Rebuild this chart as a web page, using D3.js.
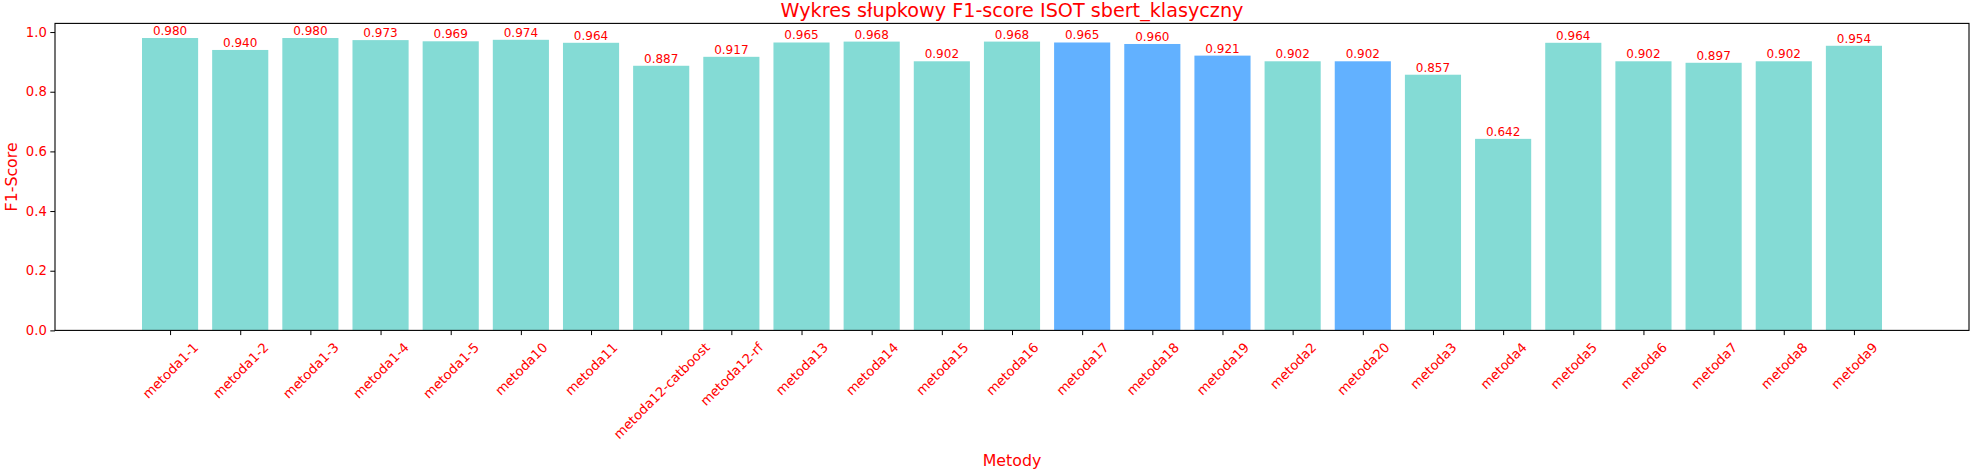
<!DOCTYPE html>
<html>
<head>
<meta charset="utf-8">
<script src="https://cdn.jsdelivr.net/npm/d3@7"></script>
<style>
html, body { margin: 0; padding: 0; background: #fff; }
svg { display: block; }
text { font-family: "DejaVu Sans", sans-serif; }
</style>
</head>
<body>
<script>
const categories = ["metoda1-1","metoda1-2","metoda1-3","metoda1-4","metoda1-5","metoda10","metoda11","metoda12-catboost","metoda12-rf","metoda13","metoda14","metoda15","metoda16","metoda17","metoda18","metoda19","metoda2","metoda20","metoda3","metoda4","metoda5","metoda6","metoda7","metoda8","metoda9"];
const values = [0.980,0.940,0.980,0.973,0.969,0.974,0.964,0.887,0.917,0.965,0.968,0.902,0.968,0.965,0.960,0.921,0.902,0.902,0.857,0.642,0.964,0.902,0.897,0.902,0.954];
const highlighted = ["metoda17","metoda18","metoda19","metoda20"];
const yTicks = [0.0,0.2,0.4,0.6,0.8,1.0];
const titleText = "Wykres słupkowy F1-score ISOT sbert_klasyczny";
const xLabelText = "Metody";
const yLabelText = "F1-Score";

const W = 1970, H = 470;
const m = {left: 55, right: 1969, top: 23.4, bottom: 330.4};
const baseColor = "#84dbd5", hiColor = "#62b1ff", txtColor = "#ff0000";

const svg = d3.select("body").append("svg").attr("width", W).attr("height", H);

const n = categories.length;
const x = d3.scaleLinear().domain([-0.4 - 0.05 * (n - 0.2), (n - 1) + 0.4 + 0.05 * (n - 0.2)]).range([m.left, m.right]);
const y = d3.scaleLinear().domain([0, d3.max(values) * 1.05]).range([m.bottom, m.top]);
const bw = 0.8;

svg.append("g").selectAll("rect").data(values).join("rect")
  .attr("x", (d, i) => x(i - bw / 2))
  .attr("width", (d, i) => x(i + bw / 2) - x(i - bw / 2))
  .attr("y", d => y(d))
  .attr("height", d => y(0) - y(d))
  .attr("fill", (d, i) => highlighted.includes(categories[i]) ? hiColor : baseColor);

svg.append("g").selectAll("text").data(values).join("text")
  .attr("x", (d, i) => x(i))
  .attr("y", d => y(d) - 3)
  .attr("text-anchor", "middle")
  .attr("font-size", "12px")
  .attr("fill", txtColor)
  .text(d => d.toFixed(3));

// y axis
const yAxis = svg.append("g").attr("transform", `translate(${m.left},0)`)
  .call(d3.axisLeft(y).tickValues(yTicks).tickFormat(d3.format(".1f")).tickSize(4.7).tickPadding(3.5));
yAxis.select(".domain").remove();
yAxis.selectAll("text").attr("font-size", "13.2px").attr("fill", txtColor).attr("font-family", "DejaVu Sans");
yAxis.selectAll("line").attr("stroke", "#000").attr("stroke-width", 1);

// x axis
const xAxis = svg.append("g").attr("transform", `translate(0,${m.bottom})`)
  .call(d3.axisBottom(x).tickValues(d3.range(n)).tickFormat(i => categories[i]).tickSize(4.7));
xAxis.select(".domain").remove();
xAxis.selectAll("line").attr("stroke", "#000").attr("stroke-width", 1);
const fs = 13.2;
xAxis.selectAll("text")
  .attr("font-size", fs + "px")
  .attr("fill", txtColor)
  .attr("font-family", "DejaVu Sans")
  .attr("text-anchor", "middle")
  .attr("dy", null)
  .attr("dominant-baseline", "central")
  .each(function() {
    const w = this.getComputedTextLength();
    const h = fs * 1.164;
    const Hr = (w + h) * Math.SQRT1_2;
    const top = 4.7 + 4.6;
    d3.select(this).attr("y", null).attr("transform", `translate(0,${top + Hr / 2}) rotate(-45)`);
  });

// frame
svg.append("rect")
  .attr("x", m.left).attr("y", m.top)
  .attr("width", m.right - m.left).attr("height", m.bottom - m.top)
  .attr("fill", "none").attr("stroke", "#000").attr("stroke-width", 1.1);

// title
svg.append("text").attr("x", (m.left + m.right) / 2).attr("y", 17)
  .attr("text-anchor", "middle").attr("font-size", "19.2px").attr("fill", txtColor)
  .text(titleText);

// x label
svg.append("text").attr("x", (m.left + m.right) / 2).attr("y", 465.5)
  .attr("text-anchor", "middle").attr("font-size", "15.8px").attr("fill", txtColor)
  .text(xLabelText);

// y label
svg.append("text")
  .attr("transform", `translate(16.5,${(m.top + m.bottom) / 2}) rotate(-90)`)
  .attr("text-anchor", "middle").attr("font-size", "15.8px").attr("fill", txtColor)
  .text(yLabelText);
</script>
</body>
</html>
